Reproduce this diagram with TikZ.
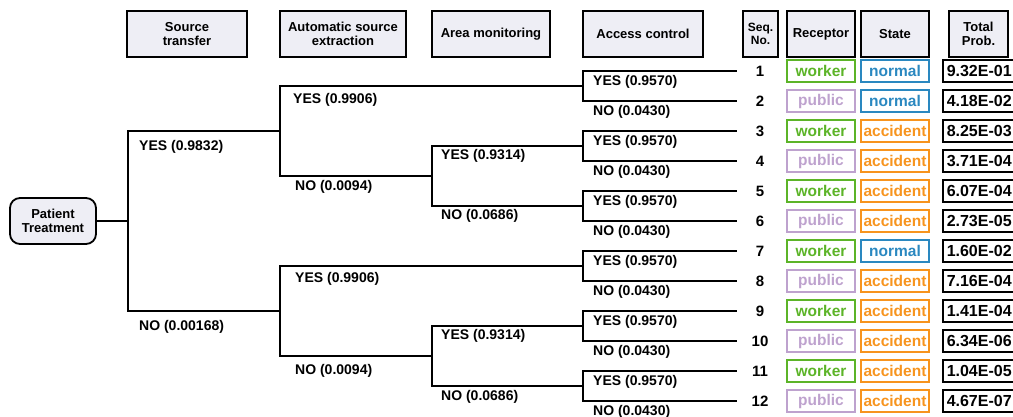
\documentclass[tikz,border=0pt]{standalone}
\usepackage{fontspec}
\setmainfont{Liberation Sans}
\definecolor{hdrfill}{RGB}{238,238,245}
\definecolor{cworker}{RGB}{92,180,40}
\definecolor{cpublic}{RGB}{190,162,206}
\definecolor{cnormal}{RGB}{42,136,192}
\definecolor{caccident}{RGB}{247,148,30}
\tikzset{
  hdr/.style={draw=black, fill=hdrfill, line width=1.8pt, minimum height=46pt, inner sep=1pt, align=center, font=\fontsize{13}{14}\selectfont\bfseries},
  rootbox/.style={draw=black, fill=hdrfill, line width=1.8pt, rounded corners=10pt, minimum width=86pt, minimum height=46pt, inner sep=1pt, align=center, font=\fontsize{13}{14}\selectfont\bfseries},
  branch/.style={line width=2pt, line join=miter},
  lab/.style={anchor=base west, inner sep=0pt, font=\fontsize{14}{16}\selectfont\bfseries},
  seqno/.style={inner sep=0pt, font=\fontsize{15}{16}\selectfont\bfseries},
  tag/.style={line width=1.3pt, minimum width=68pt, minimum height=22pt, inner sep=0pt, font=\fontsize{15.5}{17}\selectfont\bfseries},
  rworker/.style={tag, draw=cworker, text=cworker},
  rpublic/.style={tag, draw=cpublic, text=cpublic},
  snormal/.style={tag, draw=cnormal, text=cnormal},
  saccident/.style={tag, draw=caccident, text=caccident},
  probbox/.style={draw=black, line width=1.5pt, minimum height=22pt, text width=78pt, inner xsep=4pt, inner ysep=0pt, align=left, anchor=west, font=\fontsize{16}{17}\selectfont\bfseries},
}
\begin{document}
\begin{tikzpicture}[x=1pt, y=-1pt]
\useasboundingbox (0,0) rectangle (1013,416);
\clip (0,0) rectangle (1013,416);
% headers
\node[hdr, minimum width=120pt] (h1) at (187,34) {Source\\transfer};
\node[hdr, minimum width=126pt] (h2) at (343,34) {Automatic source\\extraction};
\node[hdr, minimum width=118pt] (h3) at (491,34) {Area monitoring};
\node[hdr, minimum width=120pt] (h4) at (643,34) {Access control};
\node[hdr, minimum width=35pt, font=\fontsize{12}{12.5}\selectfont\bfseries] (h5) at (760.5,34) {Seq.\\No.};
\node[hdr, minimum width=68pt] (h6) at (821,34) {Receptor};
\node[hdr, minimum width=68pt] (h7) at (895,34) {State};
\node[hdr, minimum width=59pt] (h8) at (978.5,34) {Total\\Prob.};
% root
\node[rootbox] (pt) at (53,221) {Patient\\Treatment};
% junctions
\coordinate (J0) at (128,221);
\coordinate (J1a) at (280,131);
\coordinate (J1b) at (280,311);
\coordinate (J2b) at (432,176);
\coordinate (J2d) at (432,356);
\coordinate (A1) at (583,86);
\coordinate (A2) at (583,146);
\coordinate (A3) at (583,206);
\coordinate (A4) at (583,266);
\coordinate (A5) at (583,326);
\coordinate (A6) at (583,386);
\foreach \i in {1,...,12}{
  \pgfmathsetmacro{\yy}{71+30*(\i-1)}
  \coordinate (L\i) at (737,\yy);
}
% tree
\draw[branch] (pt.east) -- (J0);
\draw[branch] (J0) |- (J1a);
\draw[branch] (J0) |- (J1b);
\draw[branch] (J1a) |- (A1);
\draw[branch] (J1a) |- (J2b);
\draw[branch] (J2b) |- (A2);
\draw[branch] (J2b) |- (A3);
\draw[branch] (J1b) |- (A4);
\draw[branch] (J1b) |- (J2d);
\draw[branch] (J2d) |- (A5);
\draw[branch] (J2d) |- (A6);
\foreach \k/\a/\b in {1/1/2,2/3/4,3/5/6,4/7/8,5/9/10,6/11/12}{
  \draw[branch] (A\k) |- (L\a);
  \draw[branch] (A\k) |- (L\b);
}
% branch labels
\node[lab] (t1) at (139,150) {YES (0.9832)};
\node[lab] (t2) at (139,330) {NO (0.00168)};
\node[lab] (t3) at (293,103) {YES (0.9906)};
\node[lab] (t4) at (295,190) {NO (0.0094)};
\node[lab] (t5) at (295,282) {YES (0.9906)};
\node[lab] (t6) at (295,374) {NO (0.0094)};
\node[lab] (t7) at (441,159) {YES (0.9314)};
\node[lab] (t8) at (441,219) {NO (0.0686)};
\node[lab] (t9) at (441,339) {YES (0.9314)};
\node[lab] (t10) at (441,400) {NO (0.0686)};
\foreach \k/\a/\b in {1/1/2,2/3/4,3/5/6,4/7/8,5/9/10,6/11/12}{
  \node[lab] (ya\k) at ([shift={(10,14)}]L\a -| A\k) {YES (0.9570)};
  \node[lab] (na\k) at ([shift={(10,14)}]L\b -| A\k) {NO (0.0430)};
}
% outcome rows
\foreach \i/\r/\s/\p in {1/worker/normal/9.32E-01, 2/public/normal/4.18E-02, 3/worker/accident/8.25E-03, 4/public/accident/3.71E-04, 5/worker/accident/6.07E-04, 6/public/accident/2.73E-05, 7/worker/normal/1.60E-02, 8/public/accident/7.16E-04, 9/worker/accident/1.41E-04, 10/public/accident/6.34E-06, 11/worker/accident/1.04E-05, 12/public/accident/4.67E-07}{
  \pgfmathsetmacro{\yy}{71+30*(\i-1)}
  \node[seqno] (n\i) at (760,\yy) {\i};
  \node[r\r] (r\i) at (821,\yy) {\r};
  \node[s\s] (s\i) at (895,\yy) {\s};
  \node[probbox] (p\i) at (942,\yy) {\p};
}
\end{tikzpicture}
\end{document}
